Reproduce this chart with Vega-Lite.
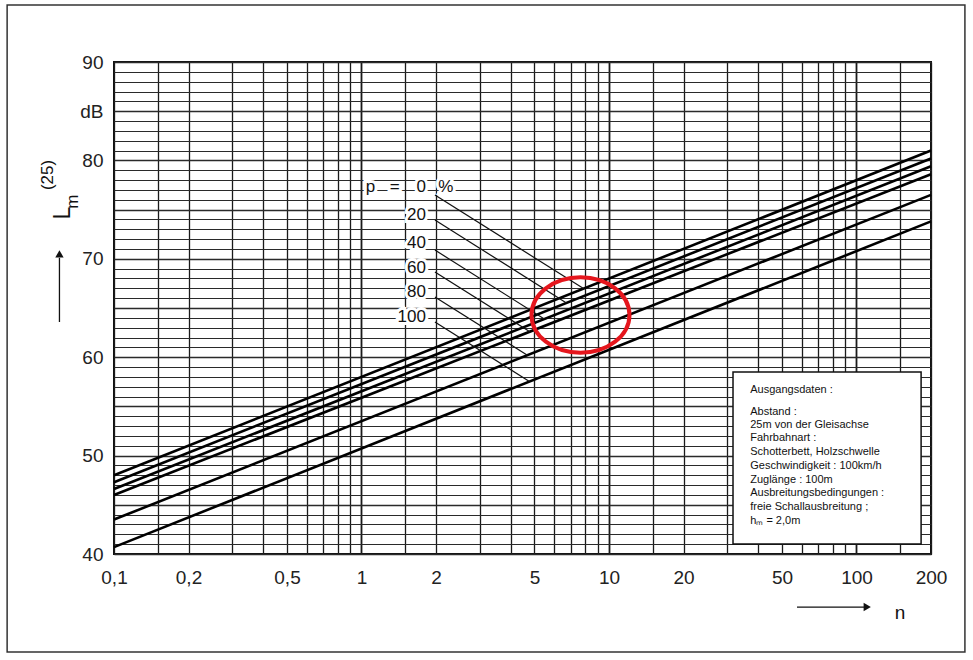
{
  "$schema": "https://vega.github.io/schema/vega-lite/v6.json",
  "autosize": {"type": "none"},
  "padding": {"left": 114, "top": 62, "right": 42, "bottom": 106},
  "width": 817,
  "height": 492,
  "background": "white",
  "config": {
    "view": {"stroke": "#111", "strokeWidth": 2},
    "font": "Liberation Sans"
  },
  "datasets": {
    "frame": [{"n": 0.037, "L": 95.79, "n2": 274.2, "L2": 30.04}],
    "curves": [
      {"p": 0, "n": 0.1, "L": 48.0}, {"p": 0, "n": 200, "L": 81.0},
      {"p": 20, "n": 0.1, "L": 47.3}, {"p": 20, "n": 200, "L": 80.2},
      {"p": 40, "n": 0.1, "L": 46.6}, {"p": 40, "n": 200, "L": 79.4},
      {"p": 60, "n": 0.1, "L": 46.0}, {"p": 60, "n": 200, "L": 78.6},
      {"p": 80, "n": 0.1, "L": 43.5}, {"p": 80, "n": 200, "L": 76.5},
      {"p": 100, "n": 0.1, "L": 40.7}, {"p": 100, "n": 200, "L": 73.8}
    ],
    "leaders": [
      {"n": 1.98, "L": 76.48, "n2": 7.89, "L2": 66.97},
      {"n": 1.98, "L": 73.94, "n2": 6.73, "L2": 65.52},
      {"n": 1.98, "L": 70.89, "n2": 5.48, "L2": 63.88},
      {"n": 1.98, "L": 68.66, "n2": 4.79, "L2": 62.59},
      {"n": 1.98, "L": 66.12, "n2": 4.68, "L2": 60.21},
      {"n": 1.98, "L": 63.58, "n2": 4.77, "L2": 57.53}
    ],
    "pnums": [
      {"n": 1.82, "L": 77.3, "text": "0"},
      {"n": 1.82, "L": 74.45, "text": "20"},
      {"n": 1.82, "L": 71.61, "text": "40"},
      {"n": 1.82, "L": 69.07, "text": "60"},
      {"n": 1.82, "L": 66.63, "text": "80"},
      {"n": 1.82, "L": 64.09, "text": "100"}
    ],
    "psym": [
      {"n": 1.04, "L": 77.3, "text": "p"},
      {"n": 1.3, "L": 77.3, "text": "="},
      {"n": 2.04, "L": 77.3, "text": "%"}
    ],
    "box": [{"n": 31.7, "L": 58.5, "n2": 182.4, "L2": 41.02}],
    "info": [
      {"n": 37.2, "L": 56.67, "text": "Ausgangsdaten :"},
      {"n": 37.2, "L": 54.43, "text": "Abstand :"},
      {"n": 37.2, "L": 53.11, "text": "25m von der Gleisachse"},
      {"n": 37.2, "L": 51.79, "text": "Fahrbahnart :"},
      {"n": 37.2, "L": 50.37, "text": "Schotterbett, Holzschwelle"},
      {"n": 37.2, "L": 48.94, "text": "Geschwindigkeit : 100km/h"},
      {"n": 37.2, "L": 47.52, "text": "Zuglänge : 100m"},
      {"n": 37.2, "L": 46.2, "text": "Ausbreitungsbedingungen :"},
      {"n": 37.2, "L": 44.78, "text": "freie Schallausbreitung ;"},
      {"n": 37.2, "L": 43.35, "text": "hₘ = 2,0m"}
    ],
    "ytitleBig": [{"n": 0.0625, "L": 74.65, "text": "L"}],
    "ytitleSmall": [
      {"n": 0.0683, "L": 75.8, "text": "m"},
      {"n": 0.0539, "L": 78.52, "text": "(25)"}
    ],
    "yarrow": [{"n": 0.0602, "L": 63.58, "n2": 0.0602, "L2": 70.1}],
    "yarrowHead": [{"n": 0.0602, "L": 70.5}],
    "xarrow": [{"n": 57.5, "L": 34.61, "n2": 108, "L2": 34.61}],
    "xarrowHead": [{"n": 110.5, "L": 34.61}],
    "xtitle": [{"n": 150, "L": 34.0, "text": "n"}],
    "ellipse": [{"n": 7.67, "L": 64.29}]
  },
  "encoding": {
    "x": {
      "field": "n",
      "type": "quantitative",
      "scale": {"type": "log", "domain": [0.1, 200], "nice": false},
      "axis": {
        "title": null,
        "values": [0.1, 0.15, 0.2, 0.3, 0.4, 0.5, 0.6, 0.7, 0.8, 0.9, 1, 1.5, 2, 3, 4, 5, 6, 7, 8, 9, 10, 15, 20, 30, 40, 50, 60, 70, 80, 90, 100, 150, 200],
        "labelExpr": "indexof([0.1,0.2,0.5,1,2,5,10,20,50,100,200], datum.value) >= 0 ? replace(toString(datum.value), '.', ',') : ''",
        "labelOverlap": false,
        "labelBound": false,
        "labelFlush": false,
        "ticks": false,
        "domain": false,
        "labelPadding": 14,
        "labelFont": "Liberation Sans",
        "labelFontSize": 19,
        "labelColor": "#222",
        "grid": true,
        "gridColor": "#1a1a1a",
        "gridOpacity": 1,
        "gridWidth": {"condition": {"test": "datum.value == 1 || datum.value == 10 || datum.value == 100", "value": 1.8}, "value": 1.3}
      }
    },
    "y": {
      "field": "L",
      "type": "quantitative",
      "scale": {"domain": [40, 90], "nice": false, "zero": false},
      "axis": {
        "title": null,
        "values": [40,41,42,43,44,45,46,47,48,49,50,51,52,53,54,55,56,57,58,59,60,61,62,63,64,65,66,67,68,69,70,71,72,73,74,75,76,77,78,79,80,81,82,83,84,85,86,87,88,89,90],
        "labelExpr": "datum.value % 10 == 0 ? toString(datum.value) : (datum.value == 85 ? 'dB' : '')",
        "labelOverlap": false,
        "labelBound": false,
        "labelFlush": false,
        "ticks": false,
        "domain": false,
        "labelPadding": 11,
        "labelFont": "Liberation Sans",
        "labelFontSize": 19,
        "labelColor": "#222",
        "grid": true,
        "gridColor": "#2a2a2a",
        "gridOpacity": 1,
        "gridWidth": {"condition": {"test": "datum.value % 5 == 0", "value": 1.5}, "value": 1.1}
      }
    }
  },
  "layer": [
    {
      "data": {"name": "frame"},
      "mark": {"type": "rect", "fill": null, "fillOpacity": 0, "stroke": "#333", "strokeWidth": 1.5},
      "encoding": {"x2": {"field": "n2"}, "y2": {"field": "L2"}}
    },
    {
      "data": {"name": "curves"},
      "mark": {"type": "line", "color": "#000", "strokeWidth": 2.6},
      "encoding": {"detail": {"field": "p", "type": "nominal"}}
    },
    {
      "data": {"name": "leaders"},
      "mark": {"type": "rule", "color": "#111", "strokeWidth": 1.2},
      "encoding": {"x2": {"field": "n2"}, "y2": {"field": "L2"}}
    },
    {
      "data": {"name": "pnums"},
      "mark": {"type": "text", "align": "right", "baseline": "middle", "fontSize": 17, "font": "Liberation Sans", "stroke": "white", "strokeWidth": 6, "fill": "white"},
      "encoding": {"text": {"field": "text"}}
    },
    {
      "data": {"name": "pnums"},
      "mark": {"type": "text", "align": "right", "baseline": "middle", "fontSize": 17, "font": "Liberation Sans", "color": "#111"},
      "encoding": {"text": {"field": "text"}}
    },
    {
      "data": {"name": "psym"},
      "mark": {"type": "text", "align": "left", "baseline": "middle", "fontSize": 17, "font": "Liberation Sans", "stroke": "white", "strokeWidth": 6, "fill": "white"},
      "encoding": {"text": {"field": "text"}}
    },
    {
      "data": {"name": "psym"},
      "mark": {"type": "text", "align": "left", "baseline": "middle", "fontSize": 17, "font": "Liberation Sans", "color": "#111"},
      "encoding": {"text": {"field": "text"}}
    },
    {
      "data": {"name": "box"},
      "mark": {"type": "rect", "fill": "white", "stroke": "#111", "strokeWidth": 1.5},
      "encoding": {"x2": {"field": "n2"}, "y2": {"field": "L2"}}
    },
    {
      "data": {"name": "info"},
      "mark": {"type": "text", "align": "left", "baseline": "middle", "fontSize": 11, "font": "Liberation Sans", "color": "#111"},
      "encoding": {"text": {"field": "text"}}
    },
    {
      "data": {"name": "ytitleBig"},
      "mark": {"type": "text", "align": "center", "baseline": "middle", "angle": 270, "fontSize": 23, "font": "Liberation Sans", "color": "#111"},
      "encoding": {"text": {"field": "text"}}
    },
    {
      "data": {"name": "ytitleSmall"},
      "mark": {"type": "text", "align": "center", "baseline": "middle", "angle": 270, "fontSize": 17, "font": "Liberation Sans", "color": "#111"},
      "encoding": {"text": {"field": "text"}}
    },
    {
      "data": {"name": "yarrow"},
      "mark": {"type": "rule", "color": "#111", "strokeWidth": 1.3},
      "encoding": {"x2": {"field": "n2"}, "y2": {"field": "L2"}}
    },
    {
      "data": {"name": "yarrowHead"},
      "mark": {"type": "point", "shape": "triangle-up", "filled": true, "color": "#111", "size": 70, "opacity": 1},
      "encoding": {}
    },
    {
      "data": {"name": "xarrow"},
      "mark": {"type": "rule", "color": "#111", "strokeWidth": 1.3},
      "encoding": {"x2": {"field": "n2"}, "y2": {"field": "L2"}}
    },
    {
      "data": {"name": "xarrowHead"},
      "mark": {"type": "point", "shape": "triangle-right", "filled": true, "color": "#111", "size": 70, "opacity": 1},
      "encoding": {}
    },
    {
      "data": {"name": "xtitle"},
      "mark": {"type": "text", "align": "center", "baseline": "middle", "fontSize": 19, "font": "Liberation Sans", "color": "#111"},
      "encoding": {"text": {"field": "text"}}
    },
    {
      "data": {"name": "ellipse"},
      "mark": {"type": "point", "shape": "M -1 0 A 1 0.77 0 1 0 1 0 A 1 0.77 0 1 0 -1 0 Z", "filled": false, "stroke": "#e5161d", "strokeWidth": 4, "size": 9604, "opacity": 1},
      "encoding": {}
    }
  ]
}
